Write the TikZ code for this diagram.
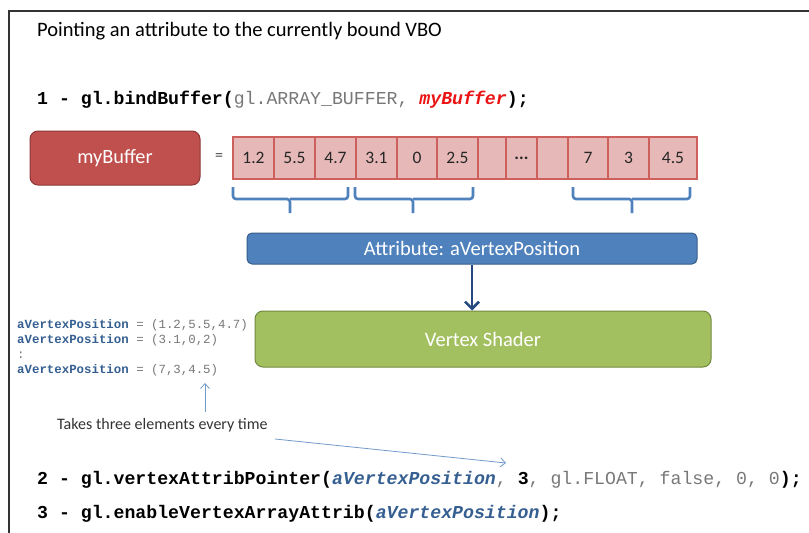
\documentclass[tikz,border=0pt]{standalone}
\usepackage{fontspec}
\setmainfont{Carlito}
\newfontfamily\codefont{Liberation Mono}
\usetikzlibrary{arrows.meta}
\definecolor{obred}{RGB}{192,80,77}
\definecolor{obredd}{RGB}{140,56,54}
\definecolor{cellfill}{RGB}{230,185,184}
\definecolor{celldraw}{RGB}{205,95,92}
\definecolor{oblue}{RGB}{79,129,189}
\definecolor{obblued}{RGB}{56,93,138}
\definecolor{arrblue}{RGB}{36,72,128}
\definecolor{ogreen}{RGB}{163,192,96}
\definecolor{ogreend}{RGB}{113,137,63}
\definecolor{codeblue}{RGB}{54,95,145}
\definecolor{codegray}{RGB}{120,120,120}
\definecolor{codered}{RGB}{235,20,20}
\newcommand{\kb}[1]{{\bfseries #1}}
\newcommand{\kg}[1]{{\color{codegray}#1}}
\newcommand{\kbl}[1]{{\color{codeblue}\bfseries\itshape #1}}
\newcommand{\kr}[1]{{\color{codered}\bfseries\itshape #1}}
\newcommand{\kvar}{{\color{codeblue}\bfseries aVertexPosition}}
\begin{document}
\begin{tikzpicture}[x=1pt,y=-1pt,
  cell/.style={draw=celldraw,fill=cellfill,line width=1.6pt,minimum height=42pt,inner sep=0pt,font=\fontsize{17.5}{17.5}\selectfont,text=black!85},
  codeline/.style={anchor=west,inner sep=0pt,font=\codefont\fontsize{18.2}{18.2}\selectfont},
  brace/.style={draw=oblue,line width=2.6pt,rounded corners=3pt},
  note/.style={draw=oblue!80,line width=0.8pt,-{Straight Barb[length=5pt,width=9pt]}}
]
\useasboundingbox (0,0) rectangle (809,533);
\fill[white] (0,0) rectangle (809,533);
\draw[line width=1.8pt,black!80] (9,540) -- (9,11) -- (815,11);

\node[anchor=west,inner sep=0pt,font=\fontsize{20.5}{20.5}\selectfont] (title) at (37,31) {Pointing an attribute to the currently bound VBO};

\node[codeline] (l1) at (37,100) {\kb{1 - gl.bindBuffer(}\kg{gl.ARRAY\_BUFFER, }\kr{myBuffer}\kb{);}};

\node[draw=obredd,fill=obred,line width=1pt,rounded corners=8pt,minimum width=170pt,minimum height=54pt,text=white,font=\fontsize{20.3}{20.3}\selectfont] (mybuf) at (115,158) {myBuffer};
\node[font=\fontsize{16}{16}\selectfont,text=black!70] (eq) at (219,157) {=};

\node[cell,minimum width=41pt] (c1) at (253.5,158) {1.2};
\node[cell,minimum width=41pt] (c2) at (294.5,158) {5.5};
\node[cell,minimum width=41pt] (c3) at (335.5,158) {4.7};
\node[cell,minimum width=41pt] (c4) at (376.5,158) {3.1};
\node[cell,minimum width=40pt] (c5) at (417,158) {0};
\node[cell,minimum width=41pt] (c6) at (457.5,158) {2.5};
\node[cell,minimum width=28pt] (c7) at (492,158) {};
\node[cell,minimum width=31pt] (c8) at (521.5,158) {\textbf{...}};
\node[cell,minimum width=31pt] (c9) at (552.5,158) {};
\node[cell,minimum width=40pt] (c10) at (588,158) {7};
\node[cell,minimum width=41pt] (c11) at (628.5,158) {3};
\node[cell,minimum width=48pt] (c12) at (673,158) {4.5};

\draw[brace] (233,187) -- (233,199) -- (290,199) -- (290,213);
\draw[brace] (290,199) -- (348,199) -- (348,187);
\draw[brace] (355,187) -- (355,199) -- (413,199) -- (413,213);
\draw[brace] (413,199) -- (473,199) -- (473,187);
\draw[brace] (573,187) -- (573,199) -- (632,199) -- (632,213);
\draw[brace] (632,199) -- (690,199) -- (690,187);

\node[draw=obblued,fill=oblue,line width=1pt,rounded corners=5pt,minimum width=450pt,minimum height=31pt,text=white,font=\fontsize{20.5}{20.5}\selectfont] (attr) at (472,248.5) {Attribute: aVertexPosition};
\node[draw=ogreend,fill=ogreen,line width=1pt,rounded corners=8pt,minimum width=456pt,minimum height=56pt,text=white,font=\fontsize{20.5}{20.5}\selectfont] (vs) at (483,339) {Vertex Shader};
\draw[draw=arrblue,line width=2.6pt,-{Straight Barb[length=7pt,width=14pt]}] (attr.south -| 472,0) -- (vs.north -| 472,0);

\node[anchor=west,inner sep=0pt,align=left,font=\codefont\fontsize{12.4}{15}\selectfont] (code) at (17,347.5) {%
\kvar\kg{\ = (1.2,5.5,4.7)}\\
\kvar\kg{\ = (3.1,0,2)}\\
\kg{:}\\
\kvar\kg{\ = (7,3,4.5)}};

\coordinate (upstart) at (205,412);
\coordinate (upend) at (205,383);
\draw[note] (upstart) -- (upend);
\node[anchor=west,inner sep=0pt,text=black!80,font=\fontsize{16}{16}\selectfont] (takes) at (57,425) {Takes three elements every time};
\coordinate (lstart) at (275,439);
\coordinate (lend) at (506,463);
\draw[note] (lstart) -- (lend);

\node[codeline] (l2) at (37,480) {\kb{2 - gl.vertexAttribPointer(}\kbl{aVertexPosition}\kg{, }\kb{3}\kg{, gl.FLOAT, false, 0, 0}\kb{);}};
\node[codeline] (l3) at (37,514) {\kb{3 - gl.enableVertexArrayAttrib(}\kbl{aVertexPosition}\kb{);}};
\end{tikzpicture}
\end{document}
